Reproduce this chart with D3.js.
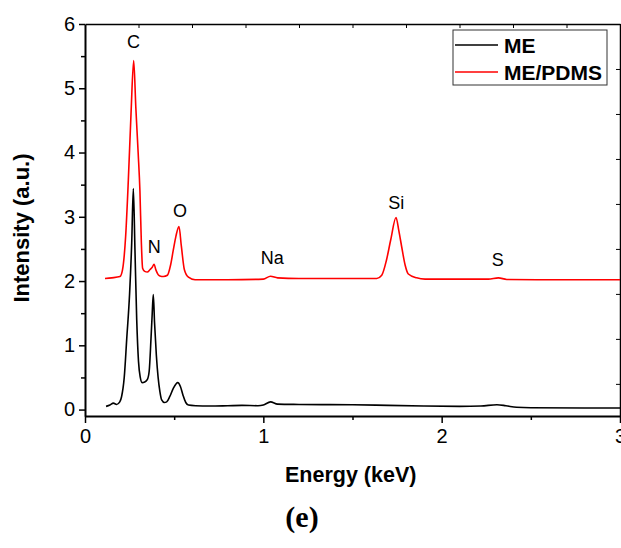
<!DOCTYPE html>
<html>
<head>
<meta charset="utf-8">
<script src="https://cdn.jsdelivr.net/npm/d3@7"></script>
<style>
  body { margin: 0; background: #fff; }
  svg { display: block; font-family: "Liberation Sans", Arial, sans-serif; }
</style>
</head>
<body>
<svg width="621" height="548"></svg>
<script>
// ME spectrum (black)
var meEnergy = [0.118, 0.14, 0.159, 0.177, 0.195, 0.205, 0.22, 0.234, 0.25, 0.262, 0.271, 0.28, 0.29, 0.30, 0.31, 0.32, 0.335, 0.35, 0.36, 0.37, 0.377, 0.383, 0.39, 0.40, 0.41, 0.42, 0.43, 0.445, 0.458, 0.475, 0.495, 0.52, 0.535, 0.55, 0.565, 0.58, 0.62, 0.7, 0.8, 0.88, 0.97, 1.0, 1.04, 1.08, 1.2, 1.5, 1.7, 1.9, 2.1, 2.22, 2.31, 2.36, 2.42, 2.5, 2.8, 3.0];
var meIntensity = [0.05, 0.07, 0.10, 0.08, 0.12, 0.2, 0.5, 1.1, 1.8, 2.6, 3.44, 2.5, 1.4, 0.75, 0.5, 0.42, 0.43, 0.47, 0.6, 1.1, 1.5, 1.79, 1.35, 0.85, 0.5, 0.28, 0.15, 0.11, 0.12, 0.2, 0.33, 0.42, 0.36, 0.22, 0.11, 0.07, 0.06, 0.055, 0.06, 0.065, 0.06, 0.07, 0.12, 0.085, 0.08, 0.075, 0.065, 0.055, 0.05, 0.055, 0.075, 0.06, 0.035, 0.028, 0.025, 0.025];

// ME/PDMS spectrum (red)
var pdmsEnergy = [0.112, 0.15, 0.196, 0.21, 0.228, 0.243, 0.258, 0.273, 0.285, 0.298, 0.308, 0.316, 0.323, 0.335, 0.349, 0.365, 0.378, 0.387, 0.398, 0.41, 0.42, 0.44, 0.462, 0.48, 0.495, 0.51, 0.527, 0.54, 0.557, 0.58, 0.617, 0.8, 1.0, 1.04, 1.08, 1.2, 1.5, 1.636, 1.664, 1.69, 1.715, 1.744, 1.76, 1.776, 1.795, 1.813, 1.86, 1.907, 2.262, 2.318, 2.365, 2.6, 3.0];
var pdmsIntensity = [2.04, 2.05, 2.07, 2.17, 2.7, 3.57, 4.6, 5.43, 4.7, 4.0, 3.4, 2.6, 2.2, 2.15, 2.14, 2.18, 2.22, 2.26, 2.17, 2.1, 2.08, 2.07, 2.09, 2.25, 2.48, 2.7, 2.85, 2.55, 2.18, 2.06, 2.02, 2.02, 2.03, 2.075, 2.05, 2.04, 2.04, 2.04, 2.09, 2.32, 2.65, 2.99, 2.78, 2.53, 2.25, 2.11, 2.05, 2.03, 2.03, 2.05, 2.025, 2.02, 2.02];

// element labels
var peakNames = ["C", "N", "O", "Na", "Si", "S"];
var peakEnergy = [0.272, 0.389, 0.533, 1.05, 1.746, 2.315];
var peakLevel = [5.62, 2.43, 3.0, 2.27, 3.12, 2.24];

var xTicks = [0, 1, 2, 3];
var yTicks = [0, 1, 2, 3, 4, 5, 6];
var seriesNames = ["ME", "ME/PDMS"];
var seriesColors = ["#000000", "#ff0000"];

var svg = d3.select("svg"),
    margin = {top: 24, right: 1, bottom: 132, left: 85},
    width = +svg.attr("width") - margin.left - margin.right,
    height = +svg.attr("height") - margin.top - margin.bottom,
    g = svg.append("g").attr("transform", "translate(" + margin.left + "," + margin.top + ")");

var x = d3.scaleLinear().domain([0, 3]).range([0, width]);
var y = d3.scaleLinear().domain([-0.1, 6]).range([height, 0]);

var line = d3.line()
    .curve(d3.curveMonotoneX)
    .x(function(d) { return x(d[0]); })
    .y(function(d) { return y(d[1]); });

var series = [d3.zip(meEnergy, meIntensity), d3.zip(pdmsEnergy, pdmsIntensity)];

// minor ticks
g.append("g")
    .attr("transform", "translate(0," + height + ")")
    .call(d3.axisBottom(x).tickValues([0.5, 1.5, 2.5]).tickSize(4).tickFormat(""))
    .call(function(a) { a.select(".domain").remove(); a.selectAll("line").attr("stroke-width", 1.5); });
g.append("g")
    .call(d3.axisLeft(y).tickValues([0.5, 1.5, 2.5, 3.5, 4.5, 5.5]).tickSize(4).tickFormat(""))
    .call(function(a) { a.select(".domain").remove(); a.selectAll("line").attr("stroke-width", 1.5); });

// top and right frame ticks (inward)
g.append("g")
    .call(d3.axisBottom(x).tickValues(d3.range(0.3, 3, 0.3)).tickSize(4).tickFormat("").tickSizeOuter(0))
    .call(function(a) { a.select(".domain").attr("stroke-width", 1.5); a.selectAll("line").attr("stroke-width", 1); });
g.append("g")
    .attr("transform", "translate(" + width + ",0)")
    .call(d3.axisLeft(y).tickValues(d3.range(0.4, 5.9, 0.7)).tickSize(4).tickFormat("").tickSizeOuter(0))
    .call(function(a) { a.select(".domain").attr("stroke-width", 1.5); a.selectAll("line").attr("stroke-width", 1); });

// main axes
var xAxis = g.append("g")
    .attr("transform", "translate(0," + height + ")")
    .call(d3.axisBottom(x).tickValues(xTicks).tickFormat(d3.format("d")).tickSize(7).tickSizeOuter(0).tickPadding(6));
var yAxis = g.append("g")
    .call(d3.axisLeft(y).tickValues(yTicks).tickFormat(d3.format("d")).tickSize(6).tickSizeOuter(0).tickPadding(4));

[xAxis, yAxis].forEach(function(a) {
  a.select(".domain").attr("stroke-width", 2);
  a.selectAll(".tick line").attr("stroke-width", 1.5);
  a.selectAll("text").attr("font-size", 20).attr("fill", "#000")
      .style("font-family", "'Liberation Sans', Arial, sans-serif");
});

g.selectAll(".spectrum")
    .data(series)
  .enter().append("path")
    .attr("class", "spectrum")
    .attr("fill", "none")
    .attr("stroke", function(d, i) { return seriesColors[i]; })
    .attr("stroke-width", 1.6)
    .attr("stroke-linejoin", "round")
    .attr("d", line);

g.selectAll(".peak")
    .data(peakNames)
  .enter().append("text")
    .attr("class", "peak")
    .attr("x", function(d, i) { return x(peakEnergy[i]); })
    .attr("y", function(d, i) { return y(peakLevel[i]); })
    .attr("text-anchor", "middle")
    .attr("font-size", 18)
    .text(function(d) { return d; });

// legend
var legend = g.append("g").attr("transform", "translate(" + (width - 167) + ",6)");
legend.append("rect")
    .attr("width", 154).attr("height", 55)
    .attr("fill", "#fff").attr("stroke", "#333").attr("stroke-width", 1);
seriesNames.forEach(function(name, i) {
  var ly = 15 + i * 27;
  legend.append("line")
      .attr("x1", 2).attr("x2", 45).attr("y1", ly).attr("y2", ly)
      .attr("stroke", seriesColors[i]).attr("stroke-width", 1.6);
  legend.append("text")
      .attr("x", 51).attr("y", ly + 7.5)
      .attr("font-size", 21).attr("font-weight", "bold")
      .text(name);
});

// axis titles
svg.append("text")
    .attr("x", margin.left + x(1.49)).attr("y", 482)
    .attr("text-anchor", "middle")
    .attr("font-size", 21.5).attr("font-weight", "bold")
    .text("Energy (keV)");
svg.append("text")
    .attr("transform", "translate(29,228) rotate(-90)")
    .attr("text-anchor", "middle")
    .attr("font-size", 22).attr("font-weight", "bold")
    .text("Intensity (a.u.)");

svg.append("text")
    .attr("x", 302).attr("y", 527)
    .attr("text-anchor", "middle")
    .attr("font-size", 30).attr("font-weight", "bold")
    .style("font-family", "'Liberation Serif', 'DejaVu Serif', serif")
    .text("(e)");
</script>
</body>
</html>
